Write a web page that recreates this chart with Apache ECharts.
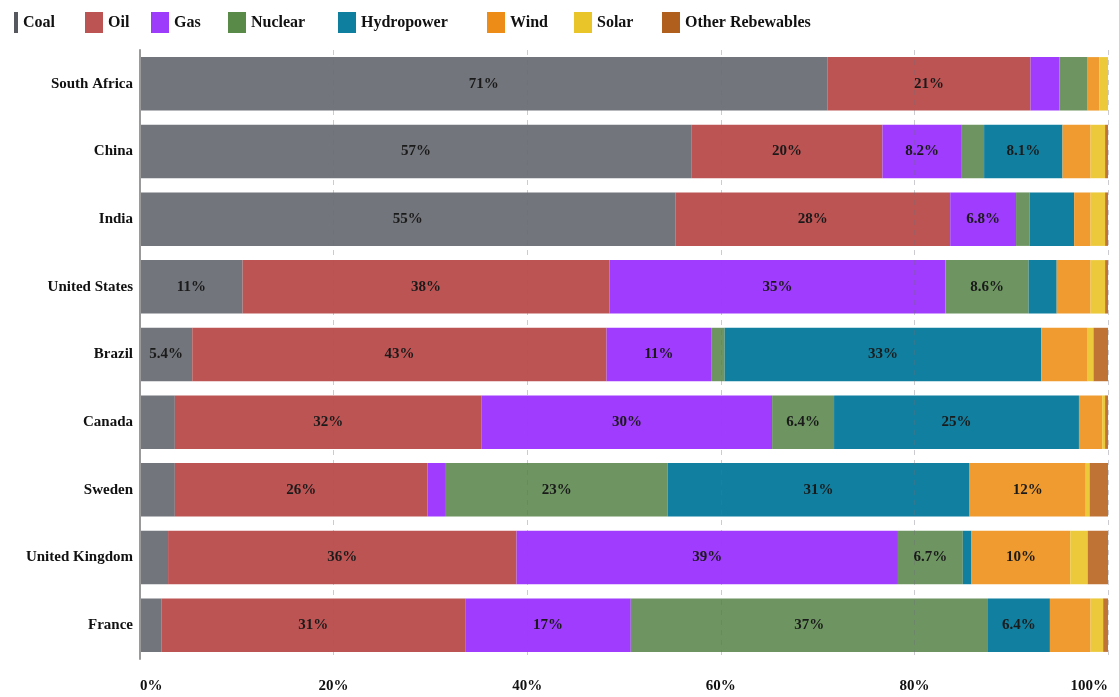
<!DOCTYPE html>
<html>
<head>
<meta charset="utf-8">
<title>Electricity generation mix by country</title>
<script src="https://cdn.jsdelivr.net/npm/echarts@6/dist/echarts.min.js"></script>
<style>
  html, body { margin: 0; padding: 0; background: #ffffff; }
  #chart { width: 1119px; height: 697px; }
</style>
</head>
<body>
<div id="chart"></div>
<script>
// Countries, top to bottom
const countries = ['South Africa', 'China', 'India', 'United States', 'Brazil', 'Canada', 'Sweden', 'United Kingdom', 'France'];

// Share of generation by source (%), one value per country in the order above
const coal       = [71.0, 57.0, 55.3, 10.6,  5.4,  3.6,  3.6,  2.9,  2.2];
const oil        = [21.0, 19.7, 28.4, 37.9, 42.8, 31.7, 26.1, 36.0, 31.4];
const gas        = [ 3.0,  8.2,  6.8, 34.7, 10.8, 30.0,  1.9, 39.4, 17.1];
const nuclear    = [ 2.9,  2.3,  1.4,  8.6,  1.4,  6.4, 22.9,  6.7, 36.9];
const hydropower = [ 0.0,  8.1,  4.6,  2.9, 32.7, 25.3, 31.2,  0.9,  6.4];
const wind       = [ 1.2,  2.9,  1.7,  3.5,  4.8,  2.4, 12.0, 10.2,  4.2];
const solar      = [ 0.9,  1.5,  1.5,  1.5,  0.6,  0.3,  0.4,  1.8,  1.3];
const otherRenew = [ 0.0,  0.3,  0.3,  0.3,  1.5,  0.3,  1.9,  2.1,  0.5];

const axisTicks = [0, 20, 40, 60, 80, 100];

const sources = [
  { name: 'Coal',             data: coal,       color: '#72757b', key: '#55585e' },
  { name: 'Oil',              data: oil,        color: '#bd5454', key: '#bd5454' },
  { name: 'Gas',              data: gas,        color: '#a03cfd', key: '#9d3cfb' },
  { name: 'Nuclear',          data: nuclear,    color: '#6d9461', key: '#5a8a47' },
  { name: 'Hydropower',       data: hydropower, color: '#117f9f', key: '#0f7f9f' },
  { name: 'Wind',             data: wind,       color: '#ef9b30', key: '#ee8c18' },
  { name: 'Solar',            data: solar,      color: '#ebc93a', key: '#eac52a' },
  { name: 'Other Rebewables', data: otherRenew, color: '#bf7436', key: '#b05f1c' }
];

// Left edge of each legend key along the top row
const legendLeft = [9, 80, 146, 223, 333, 482, 569, 657];

const serif = '"Liberation Serif", "DejaVu Serif", serif';

// Only segments of at least 5% carry a value label (two significant digits)
function pctLabel(p) {
  const v = p.value;
  if (v < 5) return '';
  return (v >= 10 ? Math.round(v) : v.toFixed(1)) + '%';
}

const legends = sources.map((s, i) => ({
  data: [{ name: s.name, itemStyle: { color: s.key } }],
  left: legendLeft[i],
  top: 7,
  icon: 'rect',
  itemWidth: i === 0 ? 4 : 18,
  itemHeight: 21,
  textStyle: { fontFamily: serif, fontWeight: 'bold', fontSize: 16, color: '#111' }
}));

const chart = echarts.init(document.getElementById('chart'), null, { renderer: 'canvas' });

chart.setOption({
  backgroundColor: '#ffffff',
  animation: false,
  legend: legends,
  grid: { left: 140, right: 11, top: 50, bottom: 38, containLabel: false },
  xAxis: {
    type: 'value',
    min: axisTicks[0],
    max: axisTicks[axisTicks.length - 1],
    interval: axisTicks[1] - axisTicks[0],
    z: 5,
    axisLine: { show: false },
    axisTick: { show: false },
    splitLine: {
      show: true,
      lineStyle: { type: [5, 5], color: 'rgba(110,110,120,0.35)', width: 1 }
    },
    axisLabel: {
      margin: 20,
      formatter: '{value}%',
      fontFamily: serif, fontWeight: 'bold', fontSize: 15, color: '#111',
      alignMinLabel: 'left', alignMaxLabel: 'right'
    }
  },
  yAxis: {
    type: 'category',
    data: countries,
    inverse: true,
    z: 6,
    axisLine: { show: true, lineStyle: { color: '#9a9a9a', width: 2 } },
    axisTick: { show: false },
    axisLabel: {
      margin: 7,
      fontFamily: serif, fontWeight: 'bold', fontSize: 15, color: '#111'
    }
  },
  series: sources.map(s => ({
    name: s.name,
    type: 'bar',
    stack: 'share',
    data: s.data,
    barCategoryGap: '21%',
    itemStyle: { color: s.color },
    label: {
      show: true,
      position: 'inside',
      formatter: pctLabel,
      fontFamily: serif, fontWeight: 'bold', fontSize: 15, color: '#1a1a1a'
    },
    emphasis: { disabled: true }
  }))
});
</script>
</body>
</html>
